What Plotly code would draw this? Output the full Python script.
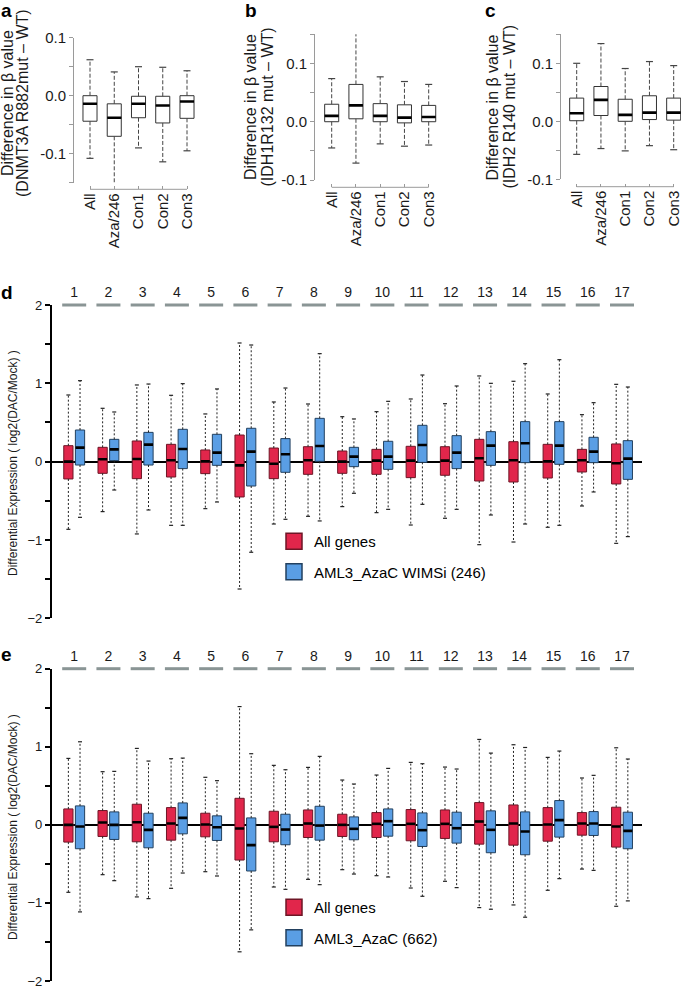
import plotly.graph_objects as go

W, H = 681, 988
FONT = "Liberation Sans, Arial, sans-serif"

# ---- panels a-c : difference in beta value ----
groups = ["All", "Aza/246", "Con1", "Con2", "Con3"]

a_upper = [0.062, 0.041, 0.050, 0.049, 0.043]
a_q3 = [0.000, -0.014, -0.001, -0.001, 0.000]
a_median = [-0.014, -0.038, -0.014, -0.017, -0.010]
a_q1 = [-0.044, -0.070, -0.038, -0.047, -0.039]
a_lower = [-0.108, -0.152, -0.090, -0.114, -0.095]

b_upper = [0.074, 0.151, 0.077, 0.069, 0.064]
b_q3 = [0.030, 0.064, 0.031, 0.029, 0.028]
b_median = [0.010, 0.028, 0.010, 0.007, 0.008]
b_q1 = [0.000, 0.005, 0.000, -0.002, 0.000]
b_lower = [-0.045, -0.071, -0.038, -0.042, -0.040]

c_upper = [0.100, 0.134, 0.091, 0.103, 0.096]
c_q3 = [0.040, 0.060, 0.038, 0.044, 0.040]
c_median = [0.014, 0.037, 0.011, 0.015, 0.015]
c_q1 = [0.001, 0.010, 0.000, 0.003, 0.002]
c_lower = [-0.057, -0.047, -0.051, -0.042, -0.049]

# ---- panels d-e : differential expression per cluster ----
chrom = list(range(1, 18))

all_upper = [0.851, 0.681, 0.979, 0.847, 0.609, 1.515, 0.762, 0.736, 0.574, 0.638, 0.800, 0.740, 1.094, 1.026, 0.864, 0.600, 0.987]
all_q3 = [0.204, 0.183, 0.264, 0.221, 0.149, 0.340, 0.174, 0.191, 0.136, 0.157, 0.196, 0.191, 0.285, 0.255, 0.221, 0.157, 0.226]
all_median = [0.0, 0.030, 0.034, 0.017, 0.004, -0.047, -0.026, 0.017, 0.0, 0.013, 0.013, 0.013, 0.043, 0.017, 0.004, 0.017, -0.021]
all_q1 = [-0.221, -0.149, -0.217, -0.196, -0.153, -0.451, -0.217, -0.162, -0.149, -0.162, -0.204, -0.174, -0.247, -0.260, -0.209, -0.132, -0.285]
all_lower = [-0.864, -0.638, -0.923, -0.813, -0.600, -1.626, -0.796, -0.698, -0.574, -0.651, -0.809, -0.723, -1.060, -1.026, -0.838, -0.566, -1.043]

wimsi_upper = [1.034, 0.634, 0.991, 0.996, 0.928, 1.489, 0.940, 1.379, 0.545, 0.770, 1.106, 0.966, 1.000, 1.251, 1.302, 0.753, 0.953]
wimsi_q3 = [0.404, 0.285, 0.374, 0.413, 0.349, 0.426, 0.294, 0.553, 0.183, 0.260, 0.464, 0.332, 0.383, 0.511, 0.511, 0.311, 0.268]
wimsi_median = [0.179, 0.157, 0.217, 0.162, 0.115, 0.128, 0.094, 0.200, 0.064, 0.064, 0.213, 0.115, 0.204, 0.234, 0.204, 0.128, 0.038]
wimsi_q1 = [-0.043, 0.013, -0.043, -0.089, -0.047, -0.311, -0.136, 0.004, -0.064, -0.098, -0.009, -0.089, -0.047, -0.013, -0.034, -0.013, -0.226]
wimsi_lower = [-0.711, -0.362, -0.617, -0.813, -0.515, -1.157, -0.736, -0.757, -0.404, -0.609, -0.545, -0.609, -0.681, -0.796, -0.813, -0.387, -0.957]

azac_upper = [1.064, 0.685, 0.817, 0.855, 0.566, 0.911, 0.706, 0.877, 0.523, 0.723, 0.783, 0.715, 0.919, 0.991, 0.945, 0.634, 0.843]
azac_q3 = [0.243, 0.166, 0.149, 0.281, 0.115, 0.089, 0.136, 0.238, 0.102, 0.204, 0.153, 0.162, 0.179, 0.166, 0.311, 0.170, 0.162]
azac_median = [-0.021, 0.0, -0.064, 0.089, -0.030, -0.260, -0.060, -0.009, -0.051, 0.047, -0.068, -0.043, -0.064, -0.085, 0.060, 0.017, -0.077]
azac_q1 = [-0.306, -0.187, -0.294, -0.115, -0.200, -0.591, -0.255, -0.196, -0.191, -0.145, -0.277, -0.234, -0.357, -0.383, -0.157, -0.136, -0.306]
azac_lower = [-1.115, -0.715, -0.945, -0.617, -0.655, -1.345, -0.826, -0.766, -0.630, -0.668, -0.915, -0.804, -1.081, -1.183, -0.689, -0.583, -0.974]

RED, RED_EDGE = "#E1264B", "#6E1626"
BLUE, BLUE_EDGE = "#5A9EE4", "#22405F"
DASH_GREY = "#8A9595"
AX_GREY = "#9a9a9a"

OFFSET = 0.17   # half distance between the red and blue box of one cluster
BOXW = 0.27
LINE_EW = 1.4   # plotly draws a line-ew marker 1.4 * size long
E_UP = 4        # panel e nudged up a little so its bottom tick label stays on the page


def px_x(p):
    return p / W


def px_y(p):
    return 1 - p / H


fig = go.Figure()


def add_boxes(xs, lo, q1, med, q3, hi, xa, ya, fill, edge, width, box_px,
              med_w, cap_px, dash, wcolor):
    wx, wy = [], []
    for x, l, a, b, h in zip(xs, lo, q1, q3, hi):
        wx += [x, x, None, x, x, None]
        wy += [b, h, None, a, l, None]
    fig.add_trace(go.Scatter(x=wx, y=wy, mode="lines", xaxis=xa, yaxis=ya,
                             line=dict(color=wcolor, width=1, dash=dash),
                             showlegend=False, hoverinfo="skip"))
    fig.add_trace(go.Scatter(x=list(xs) + list(xs), y=list(hi) + list(lo), mode="markers",
                             xaxis=xa, yaxis=ya, cliponaxis=False,
                             marker=dict(symbol="line-ew", size=cap_px / LINE_EW,
                                         line=dict(color=wcolor, width=1.2)),
                             showlegend=False, hoverinfo="skip"))
    fig.add_trace(go.Box(x=xs, q1=q1, median=med, q3=q3, lowerfence=q1, upperfence=q3,
                         width=width, fillcolor=fill, line=dict(color=edge, width=1),
                         whiskerwidth=0, xaxis=xa, yaxis=ya, showlegend=False,
                         hoverinfo="skip"))
    fig.add_trace(go.Scatter(x=xs, y=med, mode="markers", xaxis=xa, yaxis=ya,
                             marker=dict(symbol="line-ew", size=box_px / LINE_EW,
                                         line=dict(color="black", width=med_w)),
                             showlegend=False, hoverinfo="skip"))


beta_panels = [
    ("x", "y", a_lower, a_q1, a_median, a_q3, a_upper),
    ("x2", "y2", b_lower, b_q1, b_median, b_q3, b_upper),
    ("x3", "y3", c_lower, c_q1, c_median, c_q3, c_upper),
]
for xa, ya, lo, q1, med, q3, hi in beta_panels:
    add_boxes(groups, lo, q1, med, q3, hi, xa, ya, "white", "#333333", 0.58, 14, 2.6, 7,
              "4px,2px", "#444444")

pos_red = [c - OFFSET for c in chrom]
pos_blue = [c + OFFSET for c in chrom]

add_boxes(pos_red, all_lower, all_q1, all_median, all_q3, all_upper, "x4", "y4",
          RED, RED_EDGE, BOXW, 9, 2.6, 4, "2px,2px", "#222222")
add_boxes(pos_blue, wimsi_lower, wimsi_q1, wimsi_median, wimsi_q3, wimsi_upper, "x4", "y4",
          BLUE, BLUE_EDGE, BOXW, 9, 2.6, 4, "2px,2px", "#222222")
add_boxes(pos_red, all_lower, all_q1, all_median, all_q3, all_upper, "x5", "y5",
          RED, RED_EDGE, BOXW, 9, 2.6, 4, "2px,2px", "#222222")
add_boxes(pos_blue, azac_lower, azac_q1, azac_median, azac_q3, azac_upper, "x5", "y5",
          BLUE, BLUE_EDGE, BOXW, 9, 2.6, 4, "2px,2px", "#222222")

# grey cluster bars along the top of d and e
for xa, ya in [("x4", "y4"), ("x5", "y5")]:
    fig.add_trace(go.Scatter(x=chrom, y=[2] * len(chrom), mode="markers", xaxis=xa, yaxis=ya,
                             cliponaxis=False,
                             marker=dict(symbol="line-ew", size=24 / LINE_EW,
                                         line=dict(color=DASH_GREY, width=3)),
                             showlegend=False, hoverinfo="skip"))

# legend entries
legend_items = [
    ("All genes", RED, RED_EDGE, "legend", "g1"),
    ("AML3_AzaC WIMSi (246)", BLUE, BLUE_EDGE, "legend", "g2"),
    ("All genes", RED, RED_EDGE, "legend2", "g3"),
    ("AML3_AzaC (662)", BLUE, BLUE_EDGE, "legend2", "g4"),
]
for name, fill, edge, leg, grp in legend_items:
    fig.add_trace(go.Scatter(x=[None], y=[None], mode="markers", name=name,
                             xaxis="x4", yaxis="y4", legend=leg, legendgroup=grp,
                             marker=dict(symbol="square", size=16, color=fill,
                                         line=dict(color=edge, width=1.5))))

# ---- axes ----
layout_axes = {}
beta_geom = [
    # (suffix, y axis x px, first category centre px, x-axis line y px, y top px, y bottom px, range)
    ("", 73, 90, 189.3, 37.7, 182.7, [-0.15, 0.1]),
    ("2", 314, 331.7, 187.3, 34.3, 180.0, [-0.1, 0.15]),
    ("3", 560, 576.7, 186.7, 34.3, 179.3, [-0.1, 0.15]),
]
step = 24.25
for sfx, yax, first, xline, ytop, ybot, yr in beta_geom:
    x0 = yax + 3
    x1 = min(x0 + 125, W)
    r0 = -(first - x0) / step
    r1 = r0 + (x1 - x0) / step
    tv = [round(yr[0] + 0.05 * i, 2) for i in range(6)]
    tt = [f"{v:.1f}" if abs(round(v * 10) - v * 10) < 1e-6 else "" for v in tv]
    tt = [t.replace("-0.0", "0.0") for t in tt]
    layout_axes["xaxis" + sfx] = dict(
        domain=[px_x(x0), px_x(x1)], type="category", categoryorder="array",
        categoryarray=groups, range=[r0, r1], anchor="free", position=px_y(xline),
        showline=False, showgrid=False, zeroline=False, ticks="inside", ticklen=3,
        tickcolor=AX_GREY, tickangle=-90, automargin=False, ticklabeloverflow="allow",
        tickfont=dict(size=15, color="#1a1a1a"))
    layout_axes["yaxis" + sfx] = dict(
        domain=[px_y(ybot), px_y(ytop)], range=yr, anchor="free", position=px_x(yax),
        showline=True, linecolor=AX_GREY, linewidth=1, showgrid=False, zeroline=False,
        ticks="outside", ticklen=4, tickcolor=AX_GREY, tickvals=tv, ticktext=tt,
        automargin=False, tickfont=dict(size=15, color="#1a1a1a"))

expr_ticks = [-2 + 0.5 * i for i in range(9)]
expr_text = [("−" + str(abs(int(v))) if v < 0 else str(int(v))) if v == int(v) else ""
             for v in expr_ticks]
for sfx, ytop, ybot in [("4", 305, 618.3), ("5", 672.7 - E_UP, 985 - E_UP)]:
    layout_axes["xaxis" + sfx] = dict(
        domain=[px_x(51.7), px_x(641.7)], range=[0.343, 17.575], anchor="y" + sfx,
        side="top", tickvals=chrom, ticktext=[str(c) for c in chrom], ticks="",
        showline=False, showgrid=False, zeroline=False, automargin=False,
        ticklabelstandoff=4, tickfont=dict(size=14, color="#1a1a1a"))
    layout_axes["yaxis" + sfx] = dict(
        domain=[px_y(ybot), px_y(ytop)], range=[-2, 2], anchor="x" + sfx,
        showline=True, linecolor="black", linewidth=1.5, showgrid=False,
        zeroline=True, zerolinecolor="black", zerolinewidth=1.5,
        ticks="outside", ticklen=5, tickwidth=1.5, tickcolor="black",
        tickvals=expr_ticks, ticktext=expr_text, automargin=False,
        ticklabeloverflow="allow", tickfont=dict(size=13, color="#1a1a1a"))

# ---- texts ----
ann = []
for letter, x, y in [("a", -1, -2), ("b", 243, -2), ("c", 483, -2), ("d", -1, 280),
                     ("e", -1, 646 - E_UP)]:
    ann.append(dict(text=f"<b>{letter}</b>", x=px_x(x), y=px_y(y), xref="paper", yref="paper",
                    xanchor="left", yanchor="top", showarrow=False,
                    font=dict(size=19, color="black")))

beta_titles = [
    (8, 23, 103, "(DNMT3A R882mut – WT)"),
    (250, 266.5, 107, "(IDH1R132 mut – WT)"),
    (491.5, 508.5, 107, "(IDH2 R140 mut – WT)"),
]
for x1, x2, yc, sub in beta_titles:
    for xc, txt in [(x1, "Difference in β value"), (x2, sub)]:
        ann.append(dict(text=txt, x=px_x(xc), y=px_y(yc), xref="paper", yref="paper",
                        xanchor="center", yanchor="middle", textangle=-90, showarrow=False,
                        font=dict(size=16, color="#1a1a1a")))

for yc in [463, 831 - E_UP]:
    ann.append(dict(text="Differential Expression ( log2(DAC/Mock) )", x=px_x(13), y=px_y(yc),
                    xref="paper", yref="paper", xanchor="center", yanchor="middle",
                    textangle=-90, showarrow=False, font=dict(size=12, color="#1a1a1a")))

shapes = []
for sfx, yax, first, xline, ytop, ybot, yr in beta_geom:
    shapes.append(dict(type="line", xref="x" + sfx, yref="paper", x0=0, x1=len(groups) - 1,
                       y0=px_y(xline), y1=px_y(xline), line=dict(color=AX_GREY, width=1)))

leg_common = dict(xanchor="left", yanchor="top", bgcolor="rgba(0,0,0,0)",
                  font=dict(size=15, family=FONT, color="black"), tracegroupgap=8,
                  traceorder="grouped")

fig.update_layout(
    width=W, height=H, margin=dict(l=0, r=0, t=0, b=0, autoexpand=False),
    paper_bgcolor="white", plot_bgcolor="white",
    font=dict(family=FONT), boxmode="overlay",
    annotations=ann, shapes=shapes,
    legend=dict(x=px_x(274), y=px_y(525), **leg_common),
    legend2=dict(x=px_x(274), y=px_y(895 - E_UP), **leg_common),
    **layout_axes,
)

# the page body keeps the browser's default 8px margin; drop it so the figure sits at 0,0
fig.write_html("out.html", config={"displayModeBar": False},
               post_script="document.body.style.margin='0px';")
